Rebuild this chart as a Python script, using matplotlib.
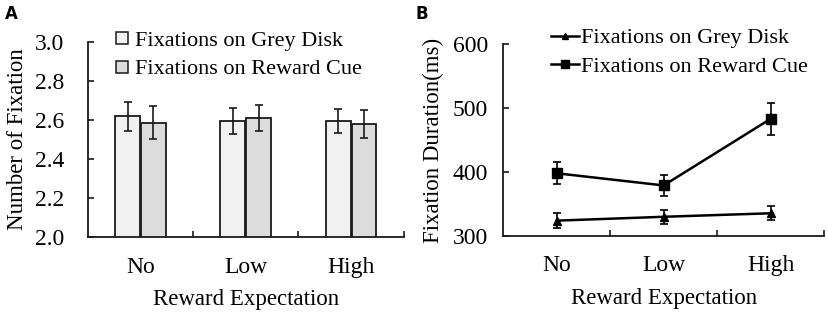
import matplotlib
matplotlib.use('Agg')
import matplotlib.pyplot as plt
from matplotlib.lines import Line2D
import numpy as np

categories = ['No', 'Low', 'High']

# panel A: number of fixations
count_grey = [2.62, 2.595, 2.595]
count_grey_err = [0.075, 0.065, 0.06]
count_reward = [2.586, 2.61, 2.58]
count_reward_err = [0.085, 0.065, 0.07]

# panel B: fixation duration (ms)
dur_grey = [324, 330, 335.5]
dur_grey_err = [12, 11, 11]
dur_reward = [398, 379, 483]
dur_reward_err = [17, 17, 25]

plt.rcParams['font.family'] = ['Liberation Serif', 'DejaVu Serif']
plt.rcParams['font.size'] = 16
edge = '#1a1a1a'

fig = plt.figure(figsize=(8.29, 3.12), dpi=100)
axA = fig.add_axes([0.106, 0.240, 0.381, 0.625])
axB = fig.add_axes([0.607, 0.2436, 0.387, 0.6154])

x = np.arange(len(categories)) + 0.5

# ---- A ----
w = 0.235
axA.bar(x - 0.123, count_grey, w, bottom=0, color='#f1f1f1', edgecolor=edge, linewidth=1.3)
axA.bar(x + 0.123, count_reward, w, bottom=0, color='#dcdcdc', edgecolor=edge, linewidth=1.3)
axA.errorbar(x - 0.123, count_grey, yerr=count_grey_err, fmt='none', ecolor=edge, elinewidth=1.2, capsize=3, capthick=1.2)
axA.errorbar(x + 0.123, count_reward, yerr=count_reward_err, fmt='none', ecolor=edge, elinewidth=1.2, capsize=3, capthick=1.2)
axA.set_ylim(2.0, 3.0)
axA.set_yticks(np.arange(2.0, 3.01, 0.2))
axA.set_yticklabels(['%.1f' % v for v in np.arange(2.0, 3.01, 0.2)])
axA.tick_params(axis='y', pad=17)
axA.set_ylabel('Number of Fixation', fontsize=16.5, labelpad=5)
hA = [Line2D([], [], ls='none', marker='s', ms=8, mfc='#f1f1f1', mec=edge, mew=1.1),
      Line2D([], [], ls='none', marker='s', ms=8, mfc='#dcdcdc', mec=edge, mew=1.1)]
axA.legend(hA, ['Fixations on Grey Disk', 'Fixations on Reward Cue'], frameon=False,
           loc='upper left', bbox_to_anchor=(0.06, 1.105), handlelength=0.6, handletextpad=0.25,
           labelspacing=0.35, borderaxespad=0, fontsize=16)

# ---- B ----
axB.errorbar(x, dur_grey, yerr=dur_grey_err, color='black', lw=1.8, marker='^', ms=6,
             elinewidth=1.2, capsize=3, capthick=1.2)
axB.errorbar(x, dur_reward, yerr=dur_reward_err, color='black', lw=1.8, marker='s', ms=7,
             elinewidth=1.2, capsize=3, capthick=1.2)
axB.set_ylim(300, 600)
axB.set_yticks([300, 400, 500, 600])
axB.tick_params(axis='y', pad=11)
axB.set_ylabel('Fixation Duration(ms)', fontsize=16.5, labelpad=6)
hB = [Line2D([], [], color='black', lw=1.8, marker='^', ms=5),
      Line2D([], [], color='black', lw=1.8, marker='s', ms=6)]
axB.legend(hB, ['Fixations on Grey Disk', 'Fixations on Reward Cue'], frameon=False,
           loc='upper left', bbox_to_anchor=(0.12, 1.13), handlelength=1.3, handletextpad=0.05,
           labelspacing=0.35, borderaxespad=0, fontsize=16)

for ax in (axA, axB):
    ax.set_xlim(0, 3)
    ax.set_xticks([1, 2, 3])
    ax.set_xticklabels([])
    ax.set_xticks(x, minor=True)
    ax.set_xticklabels(categories, minor=True)
    ax.tick_params(axis='x', which='minor', length=0, pad=14, labelsize=17)
    ax.tick_params(axis='both', which='major', direction='in', length=4, width=1.2, color=edge)
    ax.tick_params(axis='y', labelsize=17)
    ax.spines['top'].set_visible(False)
    ax.spines['right'].set_visible(False)
    for s in ('left', 'bottom'):
        ax.spines[s].set_linewidth(1.3)
        ax.spines[s].set_color(edge)
    ax.set_xlabel('Reward Expectation', fontsize=16.5, labelpad=8)

fig.text(0.006, 0.94, 'A', fontfamily='DejaVu Sans', fontweight='bold', fontsize=12)
fig.text(0.501, 0.94, 'B', fontfamily='DejaVu Sans', fontweight='bold', fontsize=12)

fig.savefig('out.png', dpi=100)
